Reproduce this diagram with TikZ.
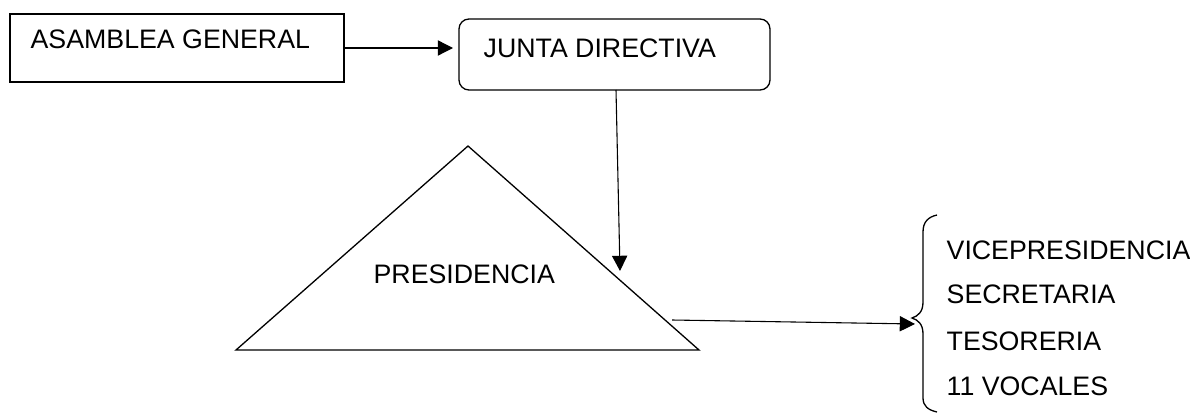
\documentclass[tikz,border=0pt]{standalone}
\usepackage{fontspec}
\setmainfont{Liberation Sans}
\usetikzlibrary{arrows.meta}
\def\u{0.46pt}
\begin{document}
\begin{tikzpicture}[x=0.46pt,y=-0.46pt,
  line width=0.6pt,
  lbl/.style={anchor=base west,inner sep=0pt,font=\fontsize{12.3}{14}\selectfont},
  sqbox/.style={draw,rectangle,inner sep=0pt},
  rbox/.style={draw,rectangle,rounded corners=4.6pt,inner sep=0pt},
  conn/.style={-{Triangle[length=7pt,width=7pt]}}]
\useasboundingbox (0,0) rectangle (1190,414);
% boxes
\node[sqbox,minimum width=334*\u,minimum height=68*\u] (asam) at (177,48) {};
\node[lbl] (asamt) at (30,49) {ASAMBLEA GENERAL};
\node[rbox,minimum width=311*\u,minimum height=71*\u] (junta) at (614.5,54.5) {};
\node[lbl] (juntat) at (483,58) {JUNTA DIRECTIVA};
% triangle
\coordinate (tl) at (236,350);
\coordinate (ta) at (468,146);
\coordinate (tr) at (699,350);
\draw[line join=miter] (tl) -- (ta) -- (tr) -- cycle;
\node[lbl] (pres) at (373,283) {PRESIDENCIA};
% connectors
\coordinate (a1) at (453,48);
\draw[conn] (asam.east |- a1) -- (a1);
\coordinate (s2) at (616,90);
\coordinate (t2) at (620,271);
\draw[conn,line width=0.5pt] (s2) -- (t2);
\coordinate (s3) at (672,320);
\coordinate (t3) at (915,324);
\draw[conn,line width=0.5pt] (s3) -- (t3);
% brace
\draw (937,215) .. controls (928,217) and (923,222) .. (923,232)
  -- (923,302) .. controls (923,312) and (918,316) .. (912,318)
  .. controls (918,320) and (923,324) .. (923,334)
  -- (923,398) .. controls (923,406) and (928,410) .. (937,412);
% list
\node[lbl] (vp) at (946,259) {VICEPRESIDENCIA};
\node[lbl] (sec) at (946,303) {SECRETARIA};
\node[lbl] (tes) at (946,350) {TESORERIA};
\node[lbl] (voc) at (946,395) {11 VOCALES};
\end{tikzpicture}
\end{document}
